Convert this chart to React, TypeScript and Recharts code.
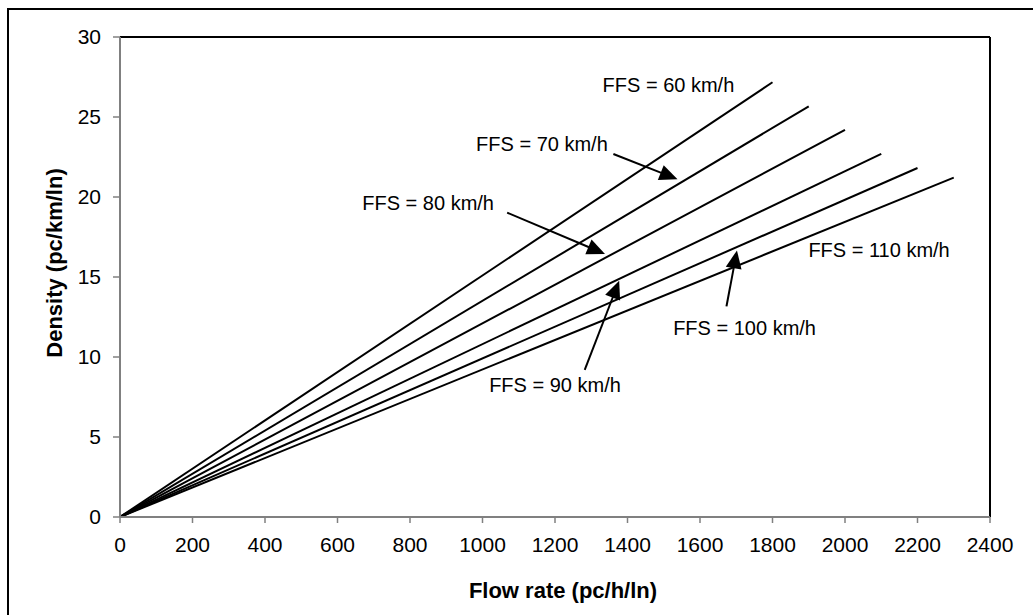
import React from 'react';
import {
  LineChart,
  Line,
  XAxis,
  YAxis,
  ReferenceLine,
  ReferenceDot,
} from 'recharts';

// flow rate (pc/h/ln) at end of each curve, and density there (pc/km/ln)
const ffsSpeeds = [60, 70, 80, 90, 100, 110];
const endFlows = [1800, 1900, 2000, 2100, 2200, 2300];
const endDensities = [27.17, 25.67, 24.2, 22.69, 21.81, 21.21];

const xTicks = [0, 200, 400, 600, 800, 1000, 1200, 1400, 1600, 1800, 2000, 2200, 2400];
const yTicks = [0, 5, 10, 15, 20, 25, 30];

// annotation labels (data coords)
const labelTexts = ['FFS = 60 km/h', 'FFS = 70 km/h', 'FFS = 80 km/h', 'FFS = 90 km/h', 'FFS = 100 km/h', 'FFS = 110 km/h'];
const labelX = [1513, 1164, 850, 1200, 1723, 2094];
const labelY = [27.0, 23.34, 19.6, 8.25, 11.84, 16.66];

// arrows: tail -> tip (data coords)
const arrowFrom = [
  { x: 1361, y: 22.69 },
  { x: 1068, y: 19.02 },
  { x: 1282, y: 9.2 },
  { x: 1673, y: 13.16 },
];
const arrowTo = [
  { x: 1538, y: 21.11 },
  { x: 1338, y: 16.44 },
  { x: 1377, y: 14.76 },
  { x: 1702, y: 16.66 },
];

const FONT = '"Liberation Sans", Arial, sans-serif';
const AXIS_GRAY = '#808080';

const series = ffsSpeeds.map((s, i) => ({
  name: `FFS ${s}`,
  points: [
    { flow: 0, density: 0 },
    { flow: endFlows[i], density: endDensities[i] },
  ],
}));

const ArrowShape = (props: any) => {
  const { x1, y1, x2, y2 } = props;
  if ([x1, y1, x2, y2].some((v) => typeof v !== 'number' || isNaN(v))) return null;
  const dx = x2 - x1;
  const dy = y2 - y1;
  const len = Math.sqrt(dx * dx + dy * dy) || 1;
  const ux = dx / len;
  const uy = dy / len;
  const headLen = 18;
  const headHalf = 8;
  const bx = x2 - ux * headLen;
  const by = y2 - uy * headLen;
  const p1 = `${bx - uy * headHalf},${by + ux * headHalf}`;
  const p2 = `${bx + uy * headHalf},${by - ux * headHalf}`;
  return (
    <g>
      <line x1={x1} y1={y1} x2={bx + ux * 2} y2={by + uy * 2} stroke="#000" strokeWidth={2} />
      <polygon points={`${x2},${y2} ${p1} ${p2}`} fill="#000" />
    </g>
  );
};

const makeLabel = (text: string) => (props: any) => {
  const { cx, cy } = props;
  return (
    <text
      x={cx}
      y={cy}
      textAnchor="middle"
      dominantBaseline="central"
      fontFamily={FONT}
      fontSize={20}
      fill="#000"
    >
      {text}
    </text>
  );
};

export default function App() {
  return (
    <div style={{ position: 'absolute', left: 0, top: 0, width: 1033, height: 615, overflow: 'hidden', background: '#fff' }}>
      {/* outer chart frame */}
      <div
        style={{
          position: 'absolute',
          left: 7,
          top: 8,
          width: 1100,
          height: 700,
          border: '2px solid #000',
          boxSizing: 'border-box',
        }}
      />
      <div style={{ position: 'absolute', left: 0, top: 0 }}>
        <LineChart
          width={1033}
          height={615}
          margin={{ top: 37, right: 43, bottom: 0, left: 0 }}
        >
          <XAxis
            type="number"
            dataKey="flow"
            domain={[0, 2400]}
            ticks={xTicks}
            interval={0}
            allowDataOverflow
            tick={{ fill: '#000', fontSize: 21, fontFamily: FONT }}
            tickSize={6}
            tickMargin={14}
            tickLine={{ stroke: AXIS_GRAY, strokeWidth: 1.5 }}
            axisLine={{ stroke: AXIS_GRAY, strokeWidth: 2 }}
            height={98}
            label={{
              value: 'Flow rate (pc/h/ln)',
              position: 'insideBottom',
              offset: 17,
              dx: 8,
              style: { fill: '#000', fontSize: 22, fontWeight: 'bold', fontFamily: FONT },
            }}
          />
          <YAxis
            type="number"
            dataKey="density"
            domain={[0, 30]}
            ticks={yTicks}
            interval={0}
            allowDataOverflow
            width={120}
            tick={{ fill: '#000', fontSize: 21, fontFamily: FONT }}
            tickSize={7}
            tickMargin={12}
            tickLine={{ stroke: AXIS_GRAY, strokeWidth: 1.5 }}
            axisLine={{ stroke: AXIS_GRAY, strokeWidth: 2 }}
            label={{
              value: 'Density (pc/km/ln)',
              angle: -90,
              position: 'insideLeft',
              offset: 54,
              dy: -14,
              style: { fill: '#000', fontSize: 22, fontWeight: 'bold', fontFamily: FONT, textAnchor: 'middle' },
            }}
          />
          <ReferenceLine y={30} stroke="#000" strokeWidth={2} />
          <ReferenceLine x={2400} stroke="#000" strokeWidth={2} />
          {series.map((s) => (
            <Line
              key={s.name}
              data={s.points}
              dataKey="density"
              type="linear"
              stroke="#000"
              strokeWidth={2}
              dot={false}
              activeDot={false}
              isAnimationActive={false}
            />
          ))}
          {arrowFrom.map((a, i) => (
            <ReferenceLine
              key={`arrow-${i}`}
              segment={[a, arrowTo[i]]}
              shape={ArrowShape}
              ifOverflow="visible"
            />
          ))}
          {labelTexts.map((t, i) => (
            <ReferenceDot
              key={`lbl-${i}`}
              x={labelX[i]}
              y={labelY[i]}
              r={0}
              ifOverflow="visible"
              shape={makeLabel(t)}
            />
          ))}
        </LineChart>
      </div>
    </div>
  );
}
